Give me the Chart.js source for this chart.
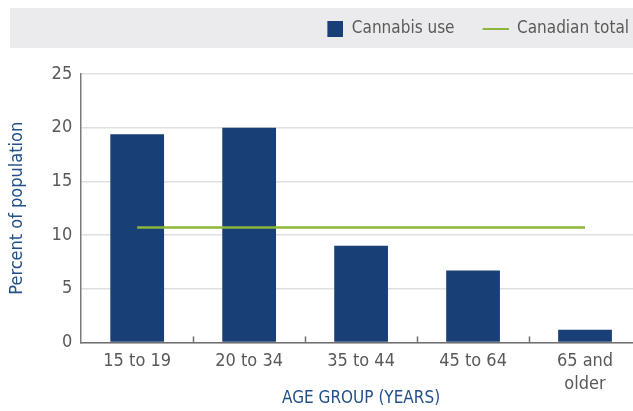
<!DOCTYPE html>
<html>
<head>
<meta charset="utf-8">
<script src="https://cdn.jsdelivr.net/npm/chart.js@4.4.1/dist/chart.umd.min.js"></script>
<style>
  html, body { margin: 0; padding: 0; background: #fff; }
  /* the plot runs a little past the right edge, as in the original */
  #wrap { width: 633px; height: 411px; overflow: hidden; }
</style>
</head>
<body>
<div id="wrap"><canvas id="myChart" width="641" height="411"></canvas></div>
<script>
// data
const ageGroups = ["15 to 19", "20 to 34", "35 to 44", "45 to 64", ["65 and", "older"]];
const cannabisUse = [19.4, 20.0, 9.0, 6.7, 1.2];
const canadianTotal = [10.7, 10.7, 10.7, 10.7, 10.7];
const yTicks = [0, 5, 10, 15, 20, 25];

const barColor = "#183f76";
const lineColor = "#8cb63c";
const font = "'DejaVu Sans Condensed', 'DejaVu Sans', sans-serif";

// legend icons: a square and a short line, padded on the left
function makeIcon(w, h, x, boxW, boxH, color) {
  const c = document.createElement("canvas");
  c.width = w;
  c.height = h;
  const g = c.getContext("2d");
  g.fillStyle = color;
  g.fillRect(x, 0, boxW, boxH);
  return c;
}
const icons = [
  makeIcon(42, 16, 26, 16, 16, barColor),
  makeIcon(42, 2, 16, 26, 2, lineColor),
];

// grey band behind the legend + small tick marks on the x axis
const extras = {
  id: "extras",
  beforeLayout(chart) {
    const lg = chart.legend;
    if (lg && !lg._patched) {
      const fit = lg.fit;
      lg.fit = function () {
        fit.call(this);
        this.height += 27;
      };
      lg._patched = true;
    }
  },
  beforeDraw(chart) {
    const lg = chart.legend;
    if (!lg || !lg.legendHitBoxes.length) return;
    const hb = lg.legendHitBoxes[0];
    const ctx = chart.ctx;
    ctx.save();
    ctx.fillStyle = "#ebebed";
    ctx.fillRect(10, hb.top - 12, chart.width - 10, hb.height + 23);
    ctx.restore();
  },
  afterDatasetsDraw(chart) {
    const x = chart.scales.x;
    const ctx = chart.ctx;
    ctx.save();
    ctx.strokeStyle = "#6e6e6e";
    ctx.lineWidth = 1.5;
    ctx.beginPath();
    for (let i = 0; i < ageGroups.length - 1; i++) {
      const px = Math.round((x.getPixelForValue(i) + x.getPixelForValue(i + 1)) / 2) + 0.5;
      ctx.moveTo(px, x.top - 6);
      ctx.lineTo(px, x.top);
    }
    ctx.stroke();
    ctx.restore();
  },
};

const ctx = document.getElementById("myChart");

new Chart(ctx, {
  data: {
    labels: ageGroups,
    datasets: [
      {
        type: "bar",
        label: "Cannabis use",
        data: cannabisUse,
        backgroundColor: barColor,
        categoryPercentage: 1,
        barPercentage: 0.48,
        order: 1,
      },
      {
        type: "line",
        label: "Canadian total",
        data: canadianTotal,
        borderColor: lineColor,
        backgroundColor: lineColor,
        borderWidth: 2.5,
        pointRadius: 0,
        order: 0,
      },
    ],
  },
  plugins: [extras],
  options: {
    responsive: false,
    animation: false,
    layout: { padding: { top: 8, right: 0, bottom: 0, left: 0 } },
    plugins: {
      tooltip: { enabled: false },
      legend: {
        position: "top",
        align: "end",
        labels: {
          usePointStyle: true,
          pointStyleWidth: 42,
          boxHeight: 16,
          padding: 12,
          color: "#5a5a5a",
          font: { family: font, size: 17 },
          generateLabels(chart) {
            const items = Chart.defaults.plugins.legend.labels.generateLabels(chart);
            items.sort((a, b) => a.datasetIndex - b.datasetIndex);
            items.forEach((it) => {
              it.pointStyle = icons[it.datasetIndex];
            });
            return items;
          },
        },
      },
    },
    scales: {
      x: {
        grid: { drawOnChartArea: false, drawTicks: false },
        border: { color: "#6e6e6e", width: 1.5 },
        ticks: {
          padding: 7,
          maxRotation: 0,
          color: "#595959",
          font: { family: font, size: 18, lineHeight: 1.28 },
        },
        title: {
          display: true,
          text: "AGE GROUP (YEARS)",
          color: "#24508a",
          font: { family: font, size: 17 },
          padding: { top: -14, bottom: 2 },
        },
      },
      y: {
        min: 0,
        max: 25,
        afterBuildTicks(scale) {
          scale.ticks = yTicks.map((v) => ({ value: v }));
        },
        grid: { color: "#e0e0e0", lineWidth: 1.5, drawTicks: false },
        border: { color: "#7a7a7a", width: 1.5 },
        ticks: {
          padding: 9,
          color: "#595959",
          font: { family: font, size: 18 },
        },
        title: {
          display: true,
          text: "Percent of population",
          color: "#24508a",
          font: { family: font, size: 18 },
          padding: { top: 7, bottom: 14 },
        },
      },
    },
  },
});
</script>
</body>
</html>
